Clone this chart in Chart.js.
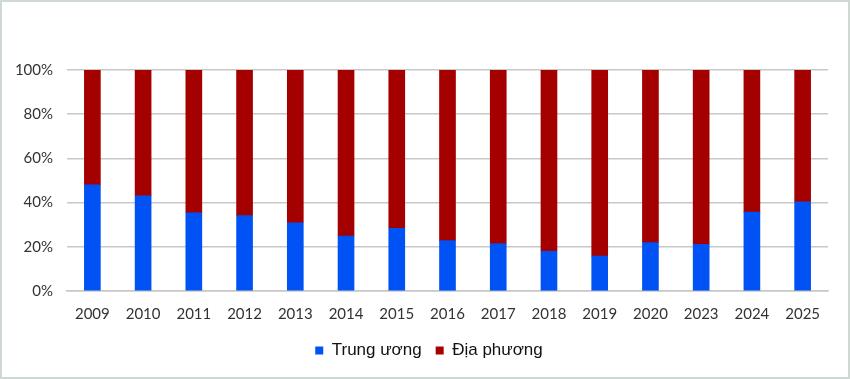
<!DOCTYPE html>
<html><head><meta charset="utf-8">
<script src="https://cdn.jsdelivr.net/npm/chart.js@4/dist/chart.umd.min.js"></script>
<style>html,body{margin:0;padding:0;background:#fff}#wrap{width:850px;height:379px;position:relative}</style>
</head><body><div id="wrap"><canvas id="c" width="850" height="379"></canvas></div>
<script>
const categories = ["2009","2010","2011","2012","2013","2014","2015","2016","2017","2018","2019","2020","2023","2024","2025"];
const trungUong = [48.0,43.1,35.4,34.1,30.9,24.9,28.4,22.8,21.4,18.0,15.8,21.9,21.1,35.7,40.4];
const diaPhuong = trungUong.map(v => +(100 - v).toFixed(1));
const seriesNames = ["Trung ương","Địa phương"];
const yTicks = [0,20,40,60,80,100];

const borderPlugin = {
  id:'frame',
  afterLayout(chart){
    if (chart.legend){ chart.legend.left += 13; chart.legend.right += 13; }
  },
  afterDraw(chart){
    const ctx = chart.ctx;
    ctx.save();
    ctx.strokeStyle = '#cfd8d3';
    ctx.lineWidth = 2;
    ctx.strokeRect(1,1,chart.width-2,chart.height-2);
    ctx.restore();
  },
  beforeDraw(chart){
    const ctx = chart.ctx;
    ctx.save(); ctx.fillStyle='#fff'; ctx.fillRect(0,0,chart.width,chart.height); ctx.restore();
  }
};

new Chart(document.getElementById('c'), {
  type:'bar',
  data:{
    labels: categories,
    datasets:[
      {label: seriesNames[0], data: trungUong, backgroundColor:'#0052f5', barThickness:16},
      {label: seriesNames[1], data: diaPhuong, backgroundColor:'#a50000', barThickness:16}
    ]
  },
  options:{
    responsive:false, animation:false,
    layout:{padding:{top:70,right:22,left:4,bottom:10}},
    plugins:{
      legend:{position:'bottom', labels:{boxWidth:8, boxHeight:8, padding:14, color:'#111', font:{family:'Liberation Sans', size:17}}},
      tooltip:{enabled:false}
    },
    scales:{
      x:{stacked:true, grid:{display:false, drawTicks:false}, border:{color:'#c8c8c8', width:1.5},
         ticks:{padding:14, color:'#333', font:{family:'Lato', size:15}},
         afterFit(s){ s.height = 37; }},
      y:{stacked:true, min:0, max:100, afterBuildTicks(s){ s.ticks = yTicks.map(v=>({value:v})); },
         grid:{color:'#c8c8c8', lineWidth:1.5, drawTicks:false}, border:{display:false},
         ticks:{padding:14, color:'#333', font:{family:'Lato', size:15}, callback:v=>v+'%'},
         afterFit(s){ s.width = 63; }}
    }
  },
  plugins:[borderPlugin]
});
</script></body></html>
